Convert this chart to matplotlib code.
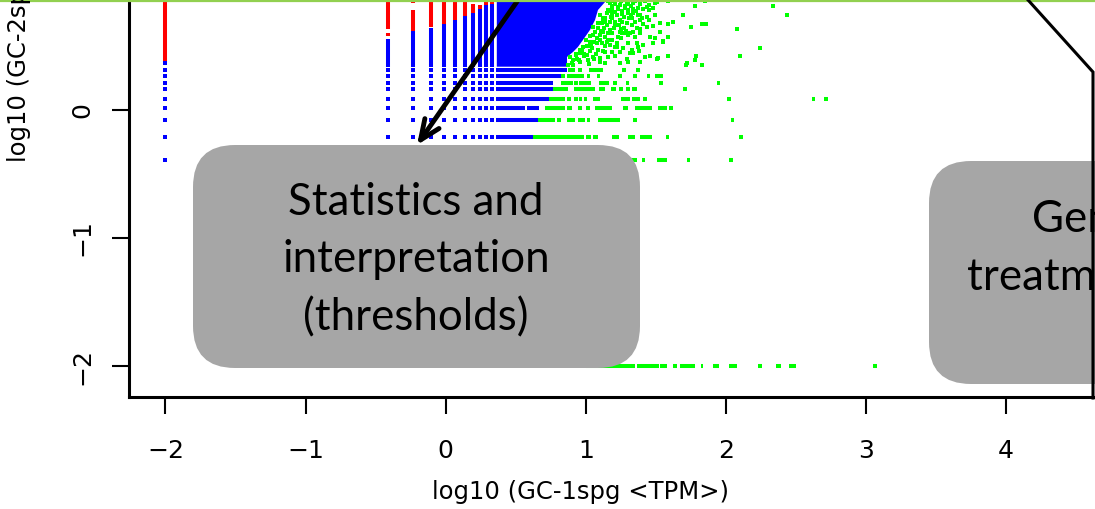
import numpy as np
import matplotlib.pyplot as plt
from matplotlib.patches import FancyBboxPatch, FancyArrowPatch
from matplotlib.lines import Line2D
from matplotlib.transforms import IdentityTransform

W, H = 1095, 509

# 低表达量的离散水平 (log10 TPM)
x_levels = [-2.0, -0.41, -0.23, -0.107, -0.01, 0.066, 0.138, 0.193, 0.247, 0.288, 0.328]
y_levels = [-0.39, -0.211, -0.078, 0.016, 0.086, 0.164, 0.211, 0.266, 0.3125, 0.367]

# 竖直方向的点列 (红色部分)
red_col_x = [-2.0, -0.41, -0.41, -0.23, -0.23, -0.107, -0.01, 0.066, 0.138, 0.193, 0.247, 0.288, 0.328]
red_col_lo = [0.375, 0.633, 0.578, 0.836, 0.617, 0.65, 0.67, 0.70, 0.734, 0.76, 0.79, 0.82, 0.83]
red_col_hi = [0.95, 0.95, 0.60, 0.95, 0.78, 0.95, 0.95, 0.95, 0.95, 0.83, 0.82, 0.95, 0.95]

# 竖直方向的点列 (蓝色部分)
blue_col_x = [-0.41, -0.23, -0.107, -0.01, 0.066, 0.138, 0.193, 0.247, 0.288, 0.328]
blue_col_lo = [0.336, 0.336, 0.336, 0.336, 0.336, 0.336, 0.336, 0.336, 0.336, 0.336]
blue_col_hi = [0.555, 0.617, 0.64, 0.67, 0.70, 0.734, 0.76, 0.79, 0.82, 0.83]

# 水平方向的点行 (蓝色部分)
blue_row_y = [0.3125, 0.266, 0.211, 0.164, 0.086, 0.016, 0.016, -0.078, -0.211]
blue_row_x0 = [0.358, 0.358, 0.358, 0.358, 0.358, 0.358, 0.58, 0.358, 0.358]
blue_row_x1 = [0.866, 0.823, 0.766, 0.766, 0.737, 0.565, 0.666, 0.659, 0.623]

# 密集的蓝色区域边界
block_x = [0.365, 0.866, 0.866, 0.909, 0.944, 0.980, 1.030, 1.066, 1.087, 1.150, 1.17, 0.365]
block_y = [0.338, 0.338, 0.414, 0.453, 0.492, 0.547, 0.625, 0.703, 0.781, 0.859, 0.90, 0.90]

# 水平方向的点行 (绿色部分): y, x起点, x终点
green_seg_y = ([0.3125] * 5 + [0.266] * 8 + [0.211] * 8 + [0.164] * 8 + [0.086] * 12
               + [0.016] * 9 + [-0.078] * 8 + [-0.211] * 8 + [-0.39] * 5 + [-2.0] * 12)
green_seg_x0 = [0.873, 0.944, 1.023, 1.258, 1.358,
                0.823, 0.866, 1.008, 1.080, 1.230, 1.337, 1.437, 1.494,
                0.823, 0.916, 0.951, 1.094, 1.194, 1.287, 1.523, 1.937,
                0.766, 0.916, 1.094, 1.180, 1.237, 1.287, 1.330, 1.694,
                0.737, 0.866, 0.916, 0.951, 0.987, 1.052, 1.251, 1.330, 1.408, 2.008, 2.615, 2.700,
                0.709, 0.866, 0.944, 1.001, 1.066, 1.266, 1.351, 1.515, 1.594,
                0.659, 0.795, 0.866, 0.944, 1.008, 1.087, 1.337, 2.037,
                0.623, 1.001, 1.052, 1.187, 1.301, 1.387, 1.573, 2.094,
                1.100, 1.401, 1.508, 1.722, 2.022,
                1.000, 1.365, 1.530, 1.623, 1.673, 1.820, 1.908, 2.020, 2.230, 2.360, 2.450, 3.050]
green_seg_x1 = [0.923, 0.973, 1.123, 1.287, 1.387,
                0.852, 0.987, 1.030, 1.101, 1.258, 1.366, 1.458, 1.551,
                0.909, 0.944, 1.037, 1.166, 1.223, 1.308, 1.551, 1.958,
                0.873, 1.066, 1.137, 1.216, 1.266, 1.316, 1.366, 1.722,
                0.852, 0.894, 0.944, 0.973, 1.008, 1.101, 1.316, 1.387, 1.437, 2.036, 2.636, 2.729,
                0.852, 0.902, 0.973, 1.030, 1.187, 1.301, 1.473, 1.580, 1.623,
                0.780, 0.823, 0.923, 0.994, 1.030, 1.244, 1.366, 2.058,
                0.987, 1.037, 1.087, 1.237, 1.351, 1.473, 1.594, 2.122,
                1.366, 1.423, 1.580, 1.744, 2.051,
                1.351, 1.523, 1.580, 1.652, 1.780, 1.836, 1.950, 2.080, 2.260, 2.390, 2.500, 3.080]

# 散点 (绿色)
green_x = [1.173, 1.208, 1.244, 1.292, 1.339, 1.387, 1.434, 1.494, 1.589, 1.696,
           1.161, 1.208, 1.256, 1.304, 1.339, 1.387, 1.327, 1.387, 1.434, 1.482, 1.494,
           1.101, 1.137, 1.185, 1.244, 1.292, 1.113, 1.149, 1.090, 1.066, 1.125, 1.173,
           1.244, 1.280, 1.316, 1.363, 1.387, 1.434, 1.482, 1.530, 1.589, 1.625,
           1.054, 1.101, 1.137, 1.185, 1.232, 1.256, 1.304, 1.351, 1.387, 1.458, 1.494,
           1.530, 1.589, 1.030, 1.078, 1.113, 1.149, 1.173, 1.220, 1.304, 1.363, 1.411,
           1.482, 1.554, 0.982, 1.042, 1.090, 1.137, 1.185, 1.244, 1.268, 1.316, 1.375,
           0.959, 1.006, 1.054, 1.101, 1.161, 1.208, 1.292, 1.339, 1.458, 1.518, 1.589,
           0.911, 0.959, 1.018, 1.101, 1.137, 1.244, 1.304, 1.387, 1.506, 1.720, 0.875, 0.911,
           1.779, 2.336, 2.436, 1.751, 1.829, 1.858, 2.079, 2.243, 1.787, 2.101, 1.779,
           1.715, 1.829, 1.851, 1.510, 1.550,
           1.16, 1.20, 1.25, 1.30, 1.35, 1.42, 1.19, 1.23, 1.28, 1.32, 1.37, 1.41,
           1.15, 1.19, 1.30, 1.45, 1.14, 1.21, 1.27, 1.33, 1.41, 1.10, 1.16, 1.22,
           1.03, 1.07, 0.99, 0.94, 0.90, 1.33, 1.38, 1.42,
           1.18, 1.22, 1.27, 1.32, 1.36, 1.40, 1.12, 1.17, 1.26, 1.35, 1.45, 1.09,
           1.13, 1.20, 1.24, 1.29, 1.03, 1.08, 1.16, 0.96, 1.01, 0.93,
           1.19, 1.23, 1.28, 1.34, 1.45, 1.18, 1.26, 1.31, 1.37, 1.12, 1.21, 1.25,
           1.34, 1.05, 1.11, 1.19, 1.25, 1.00, 1.06, 1.14, 1.21, 0.97, 1.04, 1.12,
           0.93, 0.99, 1.06, 0.89, 0.95, 1.02]
green_y = [0.833, 0.828, 0.820, 0.828, 0.833, 0.828, 0.807, 0.838, 0.851, 0.742,
           0.781, 0.768, 0.750, 0.781, 0.755, 0.742, 0.716, 0.703, 0.729, 0.794, 0.742,
           0.742, 0.716, 0.716, 0.703, 0.677, 0.677, 0.664, 0.638, 0.612, 0.612, 0.625,
           0.612, 0.599, 0.599, 0.638, 0.630, 0.651, 0.656, 0.677, 0.672, 0.690,
           0.586, 0.586, 0.573, 0.547, 0.568, 0.604, 0.586, 0.573, 0.599, 0.573, 0.560,
           0.612, 0.573, 0.534, 0.521, 0.521, 0.534, 0.508, 0.521, 0.521, 0.521, 0.508,
           0.521, 0.534, 0.495, 0.482, 0.469, 0.456, 0.456, 0.456, 0.482, 0.443, 0.495,
           0.443, 0.430, 0.417, 0.404, 0.417, 0.422, 0.396, 0.443, 0.422, 0.404, 0.422,
           0.391, 0.378, 0.391, 0.378, 0.365, 0.365, 0.378, 0.378, 0.396, 0.365, 0.352, 0.352,
           0.813, 0.813, 0.742, 0.648, 0.672, 0.672, 0.633, 0.484, 0.422, 0.422, 0.391,
           0.352, 0.352, 0.855, 0.840, 0.540,
           0.85, 0.85, 0.85, 0.845, 0.85, 0.85, 0.80, 0.79, 0.80, 0.81, 0.80, 0.79,
           0.76, 0.75, 0.76, 0.78, 0.69, 0.66, 0.64, 0.66, 0.67, 0.55, 0.55, 0.49,
           0.46, 0.44, 0.42, 0.40, 0.37, 0.47, 0.46, 0.41,
           0.77, 0.74, 0.73, 0.74, 0.77, 0.72, 0.71, 0.69, 0.69, 0.69, 0.70, 0.68,
           0.64, 0.64, 0.66, 0.62, 0.58, 0.56, 0.60, 0.47, 0.50, 0.44,
           0.815, 0.805, 0.815, 0.79, 0.82, 0.73, 0.77, 0.72, 0.74, 0.72, 0.69, 0.63,
           0.61, 0.65, 0.62, 0.60, 0.56, 0.55, 0.53, 0.50, 0.49, 0.47, 0.50, 0.46,
           0.43, 0.44, 0.40, 0.41, 0.39, 0.36]

x_ticks = [-2, -1, 0, 1, 2, 3, 4]
x_ticklabels = ['\u22122', '\u22121', '0', '1', '2', '3', '4']
y_ticks = [-2, -1, 0]
y_ticklabels = ['\u22122', '\u22121', '0']

RED, BLUE, GREEN = '#FF0000', '#0000FF', '#00FF00'
lw_pt = 2.9   # 点的大小约4像素
ms = 11

plt.rcParams['font.family'] = ['DejaVu Sans']

fig = plt.figure(figsize=(W / 100, H / 100), dpi=100)
ax = fig.add_axes([129 / W, 1 - 397 / H, (1093 - 129) / W, 397 / H])

# 蓝色密集区
ax.fill(block_x, block_y, color=BLUE, lw=0, zorder=1)

# 竖列
ax.vlines(red_col_x, red_col_lo, red_col_hi, colors=RED, lw=lw_pt, zorder=2)
ax.vlines(blue_col_x, blue_col_lo, blue_col_hi, colors=BLUE, lw=lw_pt, zorder=2)

# 离散网格点
gx, gy = [], []
for yy in y_levels:
    gx.append(x_levels[0])
    gy.append(yy)
for xx in x_levels[1:]:
    for yy in y_levels[1:9]:
        gx.append(xx)
        gy.append(yy)
ax.scatter(gx, gy, s=ms, marker='s', c=BLUE, linewidths=0, zorder=2)

# 水平行
ax.hlines(blue_row_y, blue_row_x0, blue_row_x1, colors=BLUE, lw=lw_pt, zorder=2)
ax.hlines(green_seg_y, green_seg_x0, green_seg_x1, colors=GREEN, lw=lw_pt, zorder=2)
ax.scatter(green_x, green_y, s=ms, marker='s', c=GREEN, linewidths=0, zorder=3)

ax.set_xlim(-2.26, 4.62)
ax.set_ylim(-2.242, 0.859)

for side in ['top', 'right']:
    ax.spines[side].set_visible(False)
for side in ['left', 'bottom']:
    ax.spines[side].set_linewidth(2.2)

ax.set_xticks(x_ticks)
ax.set_yticks(y_ticks)
ax.tick_params(axis='x', direction='out', length=12, width=1.5, pad=18)
ax.tick_params(axis='y', direction='out', length=12, width=1.5, pad=13)
ax.set_xticklabels(x_ticklabels, fontsize=18)
ax.set_yticklabels(y_ticklabels, rotation=90, va='center', fontsize=18)

ax.set_xlabel('log10 (GC-1spg <TPM>)', fontsize=17.5)
ax.xaxis.set_label_coords((581 - 129) / 964, (397 - 480) / 397)

# 像素坐标 (左上为原点)
def px(x, y):
    return (x, H - y)

ident = IdentityTransform()

fig.text(*px(19, 162), 'log10 (GC-2spg <TPM>)', rotation=90, ha='center', va='bottom',
         fontsize=17.5, transform=ident)

# 顶部绿色线
fig.add_artist(Line2D([0, W], [H - 1, H - 1], color='#92D050', lw=1.6, transform=ident))

# 右侧连接线
fig.add_artist(Line2D([1010, 1093, 1093], [H + 20, H - 72, H - 398], color='black', lw=2.2,
                      transform=ident, solid_joinstyle='miter'))

# 灰色圆角框
box_color = '#A6A6A6'
fig.add_artist(FancyBboxPatch((193, H - 368), 447, 223, boxstyle='round,pad=0,rounding_size=42',
                              fc=box_color, ec='none', transform=ident))
fig.add_artist(FancyBboxPatch((929, H - 384), 447, 223, boxstyle='round,pad=0,rounding_size=42',
                              fc=box_color, ec='none', transform=ident))

# 多行文本的 baseline 对齐到最后一行
fig.text(*px(416, 330), 'Statistics and\ninterpretation\n(thresholds)', ha='center', va='baseline',
         multialignment='center', family='Lato', fontsize=31.6, linespacing=1.5, transform=ident,
         zorder=5)
fig.text(*px(1032, 232), 'Gene-level', ha='left', va='baseline', family='Lato', fontsize=31.6,
         transform=ident, zorder=5)
fig.text(*px(967, 290), 'treatment', ha='left', va='baseline', family='Lato', fontsize=31.6,
         transform=ident, zorder=5)

# 箭头
arrow = FancyArrowPatch(px(539, -30), px(417, 145), arrowstyle='->,head_length=0.72,head_width=0.31',
                        mutation_scale=20, lw=3.5, color='black', shrinkA=0, shrinkB=0,
                        transform=ident)
fig.add_artist(arrow)

plt.savefig('out.png', dpi=100)
